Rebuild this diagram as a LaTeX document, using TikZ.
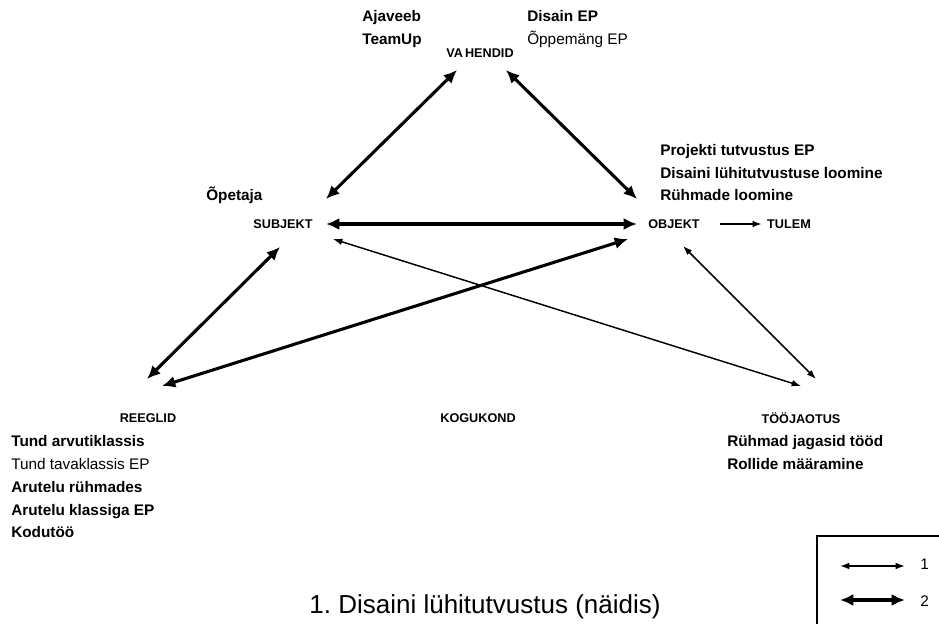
\documentclass[tikz,border=0pt]{standalone}
\usepackage{fontspec}
\setmainfont{Liberation Sans}
\usetikzlibrary{arrows.meta}
\frenchspacing

\tikzset{
    corner/.style={font=\bfseries\fontsize{9.5}{11}\selectfont, inner sep=0pt},
    note/.style={font=\bfseries\fontsize{11.5}{13}\selectfont, anchor=base west, inner sep=0pt},
    plainnote/.style={font=\fontsize{11.5}{13}\selectfont, anchor=base west, inner sep=0pt},
    strong/.style={line width=2.3pt, {Latex[length=10pt,width=9pt]}-{Latex[length=10pt,width=9pt]}},
    weak/.style={line width=1.1pt, {Latex[length=7pt,width=5pt]}-{Latex[length=7pt,width=5pt]}}
}

\begin{document}
\begin{tikzpicture}[x=0.75pt, y=-0.75pt]
    \useasboundingbox (0,0) rectangle (939,624);

    % corners of the triangle
    \node[corner] (vahendid) at (480,53) {VA\,HENDID};
    \node[corner] (subjekt) at (283,224) {SUBJEKT};
    \node[corner] (objekt) at (674,224) {OBJEKT};
    \node[corner] (tulem) at (789,224) {TULEM};
    \node[corner] (reeglid) at (148,418) {REEGLID};
    \node[corner] (kogukond) at (478,418) {KOGUKOND};
    \node[corner] (toojaotus) at (801,418) {TÖÖJAOTUS};

    % notes
    \node[note] (ajaveeb) at (362,22) {Ajaveeb};
    \node[note] (teamup) at (362,45) {TeamUp};
    \node[note] (disain) at (527,22) {Disain EP};
    \node[plainnote] (oppemang) at (527,45) {Õppemäng EP};
    \node[note] (opetaja) at (206,201) {Õpetaja};
    \node[note] (projekt) at (660,156) {Projekti tutvustus EP};
    \node[note] (loomine) at (660,179) {Disaini lühitutvustuse loomine};
    \node[note] (ruhmad) at (660,201) {Rühmade loomine};
    \node[note] (arvuti) at (11,446) {Tund arvutiklassis};
    \node[plainnote] (tava) at (11,469) {Tund tavaklassis EP};
    \node[note] (arutelu) at (11,492) {Arutelu rühmades};
    \node[note] (klass) at (11,515) {Arutelu klassiga EP};
    \node[note] (kodu) at (11,537) {Kodutöö};
    \node[note] (jagasid) at (727,446) {Rühmad jagasid tööd};
    \node[note] (rollid) at (727,469) {Rollide määramine};

    % connectors
    \draw[strong] ([shift={(43,-25)}]subjekt.center) -- ([shift={(-23,17)}]vahendid.center);
    \draw[strong] ([shift={(26,17)}]vahendid.center) -- ([shift={(-37,-25)}]objekt.center);
    \draw[strong] ([xshift=43*0.75pt]subjekt.center) -- ([xshift=-37*0.75pt]objekt.center);
    \draw[strong] ([shift={(-3,23)}]subjekt.center) -- ([shift={(-1,-39)}]reeglid.center);
    \draw[strong] ([shift={(-46,15)}]objekt.center) -- ([shift={(14,-32)}]reeglid.center);
    \draw[weak] ([shift={(50,15)}]subjekt.center) -- ([shift={(0,-32)}]toojaotus.center);
    \draw[weak] ([shift={(9,22)}]objekt.center) -- ([shift={(15,-39)}]toojaotus.center);
    \draw[line width=1.3pt, -{Latex[length=7pt,width=5pt]}] ([xshift=46*0.75pt]objekt.center) -- ([xshift=-5*0.75pt]tulem.west);

    % caption
    \node[font=\fontsize{19.5}{23}\selectfont] (pealkiri) at (485,607) {1. Disaini lühitutvustus (näidis)};

    % legend
    \draw[line width=1.3pt] (817,640) -- (817,536) -- (950,536);
    \coordinate (l1a) at (840,566);
    \coordinate (l1b) at (905,566);
    \coordinate (l2a) at (840,600);
    \coordinate (l2b) at (905,600);
    \draw[weak] (l1a) -- (l1b);
    \draw[strong] (l2a) -- (l2b);
    \node[plainnote] (leg1) at (920,569) {1};
    \node[plainnote] (leg2) at (920,606) {2};
\end{tikzpicture}
\end{document}
